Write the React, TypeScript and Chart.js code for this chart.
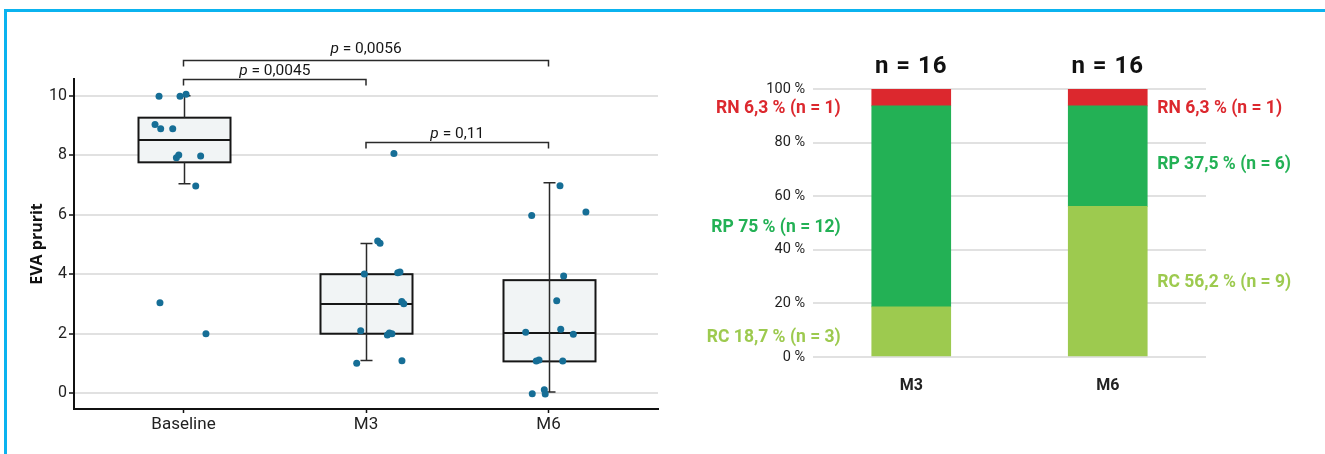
import { useEffect, useRef } from 'react';
import { Chart, registerables } from 'chart.js';

Chart.register(...registerables);

// ---------- Left panel: EVA prurit box plot ----------
const timepoints = ['Baseline', 'M3', 'M6'];
const yTickValues = [0, 2, 4, 6, 8, 10];

const baselineScores = [9.98, 9.98, 10.05, 9.03, 8.89, 8.89, 7.91, 8.01, 7.97, 6.96, 3.04, 2.0];
const baselineJitter = [-0.134, -0.019, 0.014, -0.156, -0.125, -0.059, -0.039, -0.026, 0.094, 0.067, -0.129, 0.123];
const m3Scores = [8.06, 5.12, 5.04, 4.01, 4.05, 4.07, 3.08, 3.01, 2.1, 1.96, 2.02, 2.0, 1.01, 1.09];
const m3Jitter = [0.153, 0.064, 0.077, -0.009, 0.174, 0.186, 0.196, 0.207, -0.029, 0.117, 0.128, 0.142, -0.051, 0.197];
const m6Scores = [6.97, 5.97, 6.09, 3.94, 3.11, 2.05, 2.15, 1.98, 1.08, 1.12, 1.08, -0.02, 0.12, -0.03];
const m6Jitter = [0.063, -0.092, 0.205, 0.083, 0.045, -0.125, 0.067, 0.136, -0.067, -0.052, 0.078, -0.089, -0.023, -0.018];

const boxQ1 = [7.76, 2.0, 1.07];
const boxMedian = [8.51, 3.0, 2.02];
const boxQ3 = [9.26, 4.0, 3.8];
const whiskerLow = [7.04, 1.1, 0.04];
const whiskerHigh = [10.0, 5.03, 7.07];
const whiskerThroughBox = [false, true, true];

const pFrom = [0, 0, 1];
const pTo = [2, 1, 2];
const pLabels = ['0,0056', '0,0045', '0,11'];
const pLevels = [11.2, 10.55, 8.45];

// ---------- Right panel: response stacked bars ----------
const groups = ['M3', 'M6'];
const totals = [16, 16];
const rcPct = [18.7, 56.2];
const rpPct = [75, 37.5];
const rnPct = [6.3, 6.3];
const rcN = [3, 9];
const rpN = [12, 6];
const rnN = [1, 1];

const COLORS = {
  frame: '#0bb3ef',
  point: '#166e96',
  boxFill: '#f1f4f5',
  ink: '#161616',
  grid: '#e1e1e1',
  rc: '#9dca4f',
  rp: '#23b155',
  rn: '#dc282e',
};

const fmt = (v: number) => String(v).replace('.', ',');

const boxPlugin = {
  id: 'boxPlot',
  beforeDatasetsDraw(chart: any) {
    const { ctx, scales } = chart;
    const x = scales.x;
    const y = scales.y;
    const half = 46;
    const cap = 6;
    ctx.save();
    timepoints.forEach((_, i) => {
      const cx = Math.round(x.getPixelForValue(i)) + 0.5;
      const yq1 = y.getPixelForValue(boxQ1[i]);
      const yq3 = y.getPixelForValue(boxQ3[i]);
      const ymed = y.getPixelForValue(boxMedian[i]);
      const ylo = y.getPixelForValue(whiskerLow[i]);
      const yhi = y.getPixelForValue(whiskerHigh[i]);
      ctx.fillStyle = COLORS.boxFill;
      ctx.fillRect(cx - half, yq3, half * 2, yq1 - yq3);
      ctx.strokeStyle = COLORS.ink;
      ctx.lineWidth = 2;
      ctx.strokeRect(cx - half, yq3, half * 2, yq1 - yq3);
      ctx.beginPath();
      ctx.moveTo(cx - half, ymed);
      ctx.lineTo(cx + half, ymed);
      ctx.stroke();
      ctx.strokeStyle = '#2a2a2a';
      ctx.lineWidth = 1.5;
      ctx.beginPath();
      if (whiskerThroughBox[i]) {
        ctx.moveTo(cx, ylo);
        ctx.lineTo(cx, yhi);
      } else {
        ctx.moveTo(cx, yq1);
        ctx.lineTo(cx, ylo);
        ctx.moveTo(cx, yq3);
        ctx.lineTo(cx, yhi);
      }
      ctx.moveTo(cx - cap, ylo);
      ctx.lineTo(cx + cap, ylo);
      ctx.moveTo(cx - cap, yhi);
      ctx.lineTo(cx + cap, yhi);
      ctx.stroke();
    });
    ctx.restore();
  },
  afterDraw(chart: any) {
    const { ctx, scales } = chart;
    const x = scales.x;
    const y = scales.y;
    ctx.save();
    ctx.strokeStyle = '#2a2a2a';
    ctx.lineWidth = 1.5;
    pLabels.forEach((label, i) => {
      const x1 = x.getPixelForValue(pFrom[i]);
      const x2 = x.getPixelForValue(pTo[i]);
      const ly = Math.round(y.getPixelForValue(pLevels[i])) + 0.5;
      ctx.beginPath();
      ctx.moveTo(x1, ly + 6);
      ctx.lineTo(x1, ly);
      ctx.lineTo(x2, ly);
      ctx.lineTo(x2, ly + 6);
      ctx.stroke();
      const italic = 'italic 15.5px Roboto';
      const normal = '15.5px Roboto';
      ctx.font = italic;
      const wp = ctx.measureText('p').width;
      ctx.font = normal;
      const rest = ' = ' + label;
      const wr = ctx.measureText(rest).width;
      const start = (x1 + x2) / 2 - (wp + wr) / 2;
      const base = ly - (i === 0 ? 8 : 5);
      ctx.fillStyle = COLORS.ink;
      ctx.textBaseline = 'alphabetic';
      ctx.textAlign = 'left';
      ctx.font = italic;
      ctx.fillText('p', start, base);
      ctx.font = normal;
      ctx.fillText(rest, start + wp, base);
    });
    ctx.restore();
  },
};

const rightLabelAnchors = [
  { rn: 92.6, rp: 48.1, rc: 7.1 },
  { rn: 92.6, rp: 71.8, rc: 27.6 },
];

const barLabelPlugin = {
  id: 'barLabels',
  afterDraw(chart: any) {
    const { ctx, scales } = chart;
    const x = scales.x;
    const y = scales.y;
    const meta = chart.getDatasetMeta(0);
    ctx.save();
    groups.forEach((_, i) => {
      const cx = x.getPixelForValue(i);
      const bar = meta.data[i];
      const barHalf = bar ? bar.width / 2 : 40;
      ctx.fillStyle = '#111';
      ctx.font = 'bold 24px Roboto';
      (ctx as any).letterSpacing = '1px';
      ctx.textAlign = 'center';
      ctx.textBaseline = 'middle';
      ctx.fillText(`n = ${totals[i]}`, cx, y.getPixelForValue(100) - 22);
      (ctx as any).letterSpacing = '0px';

      ctx.font = 'bold 17.5px Roboto';
      const leftSide = i === 0;
      ctx.textAlign = leftSide ? 'right' : 'left';
      const tx = leftSide ? cx - barHalf - 31 : cx + barHalf + 10;
      const a = rightLabelAnchors[i];
      ctx.fillStyle = COLORS.rn;
      ctx.fillText(`RN ${fmt(rnPct[i])} % (n = ${rnN[i]})`, tx, y.getPixelForValue(a.rn));
      ctx.fillStyle = COLORS.rp;
      ctx.fillText(`RP ${fmt(rpPct[i])} % (n = ${rpN[i]})`, tx, y.getPixelForValue(a.rp));
      ctx.fillStyle = COLORS.rc;
      ctx.fillText(`RC ${fmt(rcPct[i])} % (n = ${rcN[i]})`, tx, y.getPixelForValue(a.rc));
    });
    ctx.restore();
  },
};

export default function App() {
  const leftRef = useRef<HTMLCanvasElement>(null);
  const rightRef = useRef<HTMLCanvasElement>(null);

  useEffect(() => {
    const pts = (scores: number[], jitter: number[], idx: number) =>
      scores.map((s, k) => ({ x: idx + jitter[k], y: s }));

    const left = new Chart(leftRef.current as HTMLCanvasElement, {
      type: 'scatter',
      data: {
        datasets: [
          {
            label: 'EVA prurit',
            data: [
              ...pts(baselineScores, baselineJitter, 0),
              ...pts(m3Scores, m3Jitter, 1),
              ...pts(m6Scores, m6Jitter, 2),
            ],
            backgroundColor: COLORS.point,
            borderWidth: 0,
            pointRadius: 3.5,
          },
        ],
      },
      options: {
        animation: false,
        responsive: false,
        maintainAspectRatio: false,
        layout: { padding: { top: 79, right: 22, left: 0, bottom: 0 } },
        plugins: { legend: { display: false }, tooltip: { enabled: false } },
        scales: {
          x: {
            type: 'linear',
            min: -0.6,
            max: 2.6,
            afterBuildTicks: (s: any) => {
              s.ticks = timepoints.map((_, i) => ({ value: i }));
            },
            afterFit: (s: any) => {
              s.height = 45;
            },
            ticks: {
              callback: (v: any) => timepoints[v],
              font: { family: 'Roboto', size: 17 },
              color: '#222',
              padding: 2,
              autoSkip: false,
              maxRotation: 0,
            },
            grid: { drawOnChartArea: false, drawTicks: true, tickLength: 4, tickColor: '#111', tickWidth: 1.5 },
            border: { display: true, color: '#111', width: 2 },
          },
          y: {
            min: -0.53,
            max: 10.56,
            afterBuildTicks: (s: any) => {
              s.ticks = yTickValues.map((v) => ({ value: v }));
            },
            afterFit: (s: any) => {
              s.width = 74;
            },
            ticks: { font: { family: 'Roboto', size: 16 }, color: '#222', padding: 2 },
            grid: { color: COLORS.grid, lineWidth: 2, drawTicks: true, tickLength: 5, tickColor: '#111', tickWidth: 1.5 },
            border: { display: true, color: '#111', width: 2 },
            title: {
              display: true,
              text: 'EVA prurit',
              font: { family: 'Open Sans', size: 16, weight: 'bold' },
              color: '#111',
              padding: { top: 28, bottom: 0 },
            },
          },
        },
      },
      plugins: [boxPlugin],
    } as any);

    const right = new Chart(rightRef.current as HTMLCanvasElement, {
      type: 'bar',
      data: {
        labels: groups,
        datasets: [
          { label: 'RC', data: rcPct, backgroundColor: COLORS.rc, barThickness: 79 },
          { label: 'RP', data: rpPct, backgroundColor: COLORS.rp, barThickness: 79 },
          { label: 'RN', data: rnPct, backgroundColor: COLORS.rn, barThickness: 79 },
        ],
      },
      options: {
        animation: false,
        responsive: false,
        maintainAspectRatio: false,
        layout: { padding: { top: 89, right: 119, left: 0, bottom: 0 } },
        plugins: { legend: { display: false }, tooltip: { enabled: false } },
        scales: {
          x: {
            stacked: true,
            afterFit: (s: any) => {
              s.height = 97;
            },
            grid: { display: false, drawTicks: false },
            border: { display: false },
            ticks: { font: { family: 'Roboto', size: 16, weight: 'bold' }, color: '#222', padding: 19 },
          },
          y: {
            stacked: true,
            min: 0,
            max: 100,
            afterFit: (s: any) => {
              s.width = 133;
            },
            ticks: {
              stepSize: 20,
              callback: (v: any) => `${v} %`,
              font: { family: 'Roboto', size: 14.5 },
              color: '#1e1e1e',
              padding: 8,
            },
            grid: { color: COLORS.grid, lineWidth: 2, drawTicks: false },
            border: { display: false },
          },
        },
      },
      plugins: [barLabelPlugin],
    } as any);

    return () => {
      left.destroy();
      right.destroy();
    };
  }, []);

  return (
    <div style={{ position: 'absolute', left: 0, top: 0, width: 1325, height: 454, overflow: 'hidden', background: '#fff' }}>
      <div
        style={{
          position: 'absolute',
          left: 4,
          top: 9,
          right: -10,
          bottom: -10,
          borderTop: `3px solid ${COLORS.frame}`,
          borderLeft: `3px solid ${COLORS.frame}`,
        }}
      />
      <canvas ref={leftRef} width={680} height={454} style={{ position: 'absolute', left: 0, top: 0, display: 'block' }} />
      <canvas ref={rightRef} width={645} height={454} style={{ position: 'absolute', left: 680, top: 0, display: 'block' }} />
    </div>
  );
}
